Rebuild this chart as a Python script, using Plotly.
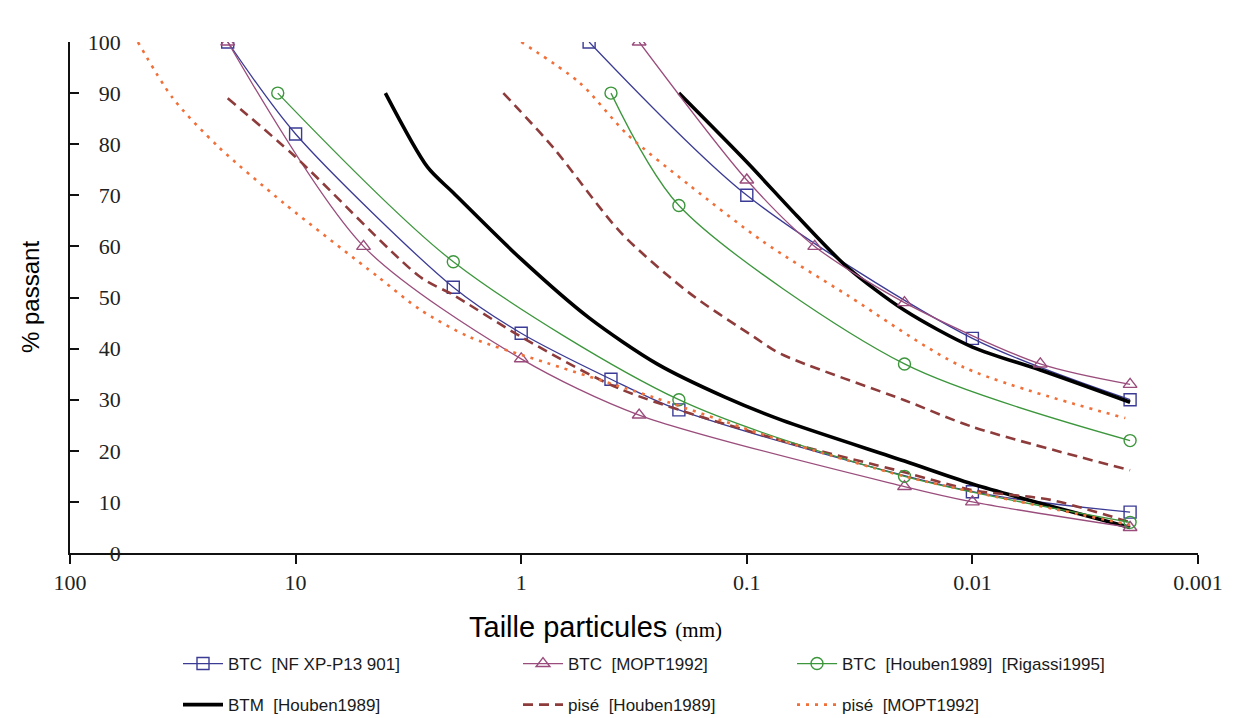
import plotly.graph_objects as go

# ---- data (particle size in mm, % passing) ----
# BTC [NF XP-P13 901] : lower and upper bound
nf_lo_x = [20, 10, 2, 1, 0.4, 0.2, 0.01, 0.002]
nf_lo_y = [100, 82, 52, 43, 34, 28, 12, 8]
nf_up_x = [0.5, 0.1, 0.01, 0.002]
nf_up_y = [100, 70, 42, 30]

# BTC [MOPT1992]
mo_lo_x = [20, 5, 1, 0.3, 0.02, 0.01, 0.002]
mo_lo_y = [100, 60, 38, 27, 13, 10, 5]
mo_up_x = [0.3, 0.1, 0.05, 0.02, 0.005, 0.002]
mo_up_y = [100, 73, 60, 49, 37, 33]

# BTC [Houben1989] [Rigassi1995]
hr_lo_x = [12, 2, 0.2, 0.02, 0.002]
hr_lo_y = [90, 57, 30, 15, 6]
hr_up_x = [0.4, 0.2, 0.02, 0.002]
hr_up_y = [90, 68, 37, 22]

# BTM [Houben1989]
btm_lo_x = [4, 2.6, 2, 1, 0.5, 0.25, 0.125, 0.07, 0.02, 0.01, 0.002]
btm_lo_y = [90, 75.5, 70.5, 57.5, 46, 37, 30.5, 26, 18, 13.5, 5]
btm_up_x = [0.2, 0.1, 0.06, 0.036, 0.02, 0.01, 0.005, 0.002]
btm_up_y = [90, 76.5, 66, 56, 47.5, 40.3, 35.8, 29.5]

# pisé [Houben1989]
ph_lo_x = [20, 10, 2.8, 2, 1, 0.36, 0.07, 0.02, 0.01, 0.0045, 0.002]
ph_lo_y = [89, 77.5, 54, 50.5, 42.3, 32, 22, 15.8, 12.3, 10.4, 6]
ph_up_x = [1.2, 0.72, 0.36, 0.18, 0.093, 0.071, 0.02, 0.01, 0.002]
ph_up_y = [90, 79.3, 62.6, 50.9, 42.3, 39, 29.9, 24.7, 16.2]

# pisé [MOPT1992]
pm_lo_x = [50, 35, 22, 11.3, 4.3, 2.8, 1.7, 0.77, 0.26, 0.07, 0.02, 0.01, 0.002]
pm_lo_y = [100, 89, 79.5, 68.5, 54, 47.6, 42.3, 37.2, 30.5, 22, 15, 12, 5.5]
pm_up_x = [1, 0.55, 0.34, 0.18, 0.085, 0.036, 0.011, 0.0021]
pm_up_y = [100, 92, 82, 72, 61, 50.5, 36.4, 26.4]

x_ticks = [100, 10, 1, 0.1, 0.01, 0.001]
y_ticks = [0, 10, 20, 30, 40, 50, 60, 70, 80, 90, 100]

W, H = 1233, 718
L, R, T, B = 70, 1198, 42, 553


def pair(lx, ly, ux, uy):
    return list(lx) + [None] + list(ux), list(ly) + [None] + list(uy)


series = [
    dict(name="BTC&nbsp;&nbsp;[NF XP-P13 901]", d=pair(nf_lo_x, nf_lo_y, nf_up_x, nf_up_y),
         color="#3b3b95", width=1.3, dash="solid", symbol="square-open", legend="legend", rank=1),
    dict(name="BTM&nbsp;&nbsp;[Houben1989]", d=pair(btm_lo_x, btm_lo_y, btm_up_x, btm_up_y),
         color="#000000", width=3.6, dash="solid", symbol=None, legend="legend", rank=2),
    dict(name="BTC&nbsp;&nbsp;[MOPT1992]", d=pair(mo_lo_x, mo_lo_y, mo_up_x, mo_up_y),
         color="#9a4d7c", width=1.3, dash="solid", symbol="triangle-up-open", legend="legend2", rank=1),
    dict(name="pisé&nbsp;&nbsp;[Houben1989]", d=pair(ph_lo_x, ph_lo_y, ph_up_x, ph_up_y),
         color="#8e3b3b", width=2.6, dash="10px,6px", symbol=None, legend="legend2", rank=2),
    dict(name="BTC&nbsp;&nbsp;[Houben1989]&nbsp;&nbsp;[Rigassi1995]", d=pair(hr_lo_x, hr_lo_y, hr_up_x, hr_up_y),
         color="#3c963c", width=1.3, dash="solid", symbol="circle-open", legend="legend3", rank=1),
    dict(name="pisé&nbsp;&nbsp;[MOPT1992]", d=pair(pm_lo_x, pm_lo_y, pm_up_x, pm_up_y),
         color="#f0703a", width=2.6, dash="3px,6px", symbol=None, legend="legend3", rank=2),
]

fig = go.Figure()
for i, s in enumerate(series):
    x, y = s["d"]
    mode = "lines+markers" if s["symbol"] else "lines"
    marker = dict(symbol=s["symbol"], size=12, color=s["color"],
                  line=dict(width=1.4, color=s["color"])) if s["symbol"] else None
    fig.add_trace(go.Scatter(
        x=x, y=y, name=s["name"], mode=mode,
        line=dict(color=s["color"], width=s["width"], dash=s["dash"], shape="spline", smoothing=0.8),
        marker=marker, connectgaps=False,
        legend=s["legend"], legendgroup=f"g{i}", legendrank=s["rank"],
        hoverinfo="skip",
    ))

px2x = lambda p: (p - L) / (R - L)
py2y = lambda p: (B - p) / (B - T)

legend_common = dict(
    orientation="v", yanchor="top", xanchor="left",
    font=dict(family="Liberation Sans, Arial, sans-serif", size=17, color="#1a1a1a"),
    bgcolor="rgba(0,0,0,0)", tracegroupgap=16, itemwidth=40,
)
y_leg = py2y(646)

fig.update_layout(
    width=W, height=H,
    margin=dict(l=L, r=W - R, t=T, b=H - B, autoexpand=False),
    paper_bgcolor="white", plot_bgcolor="white",
    showlegend=True,
    legend=dict(x=px2x(178), y=y_leg, **legend_common),
    legend2=dict(x=px2x(518), y=y_leg, **legend_common),
    legend3=dict(x=px2x(792), y=y_leg, **legend_common),
    xaxis=dict(
        type="log", range=[2, -3], tickvals=x_ticks, ticktext=[str(v) for v in x_ticks],
        showline=True, linecolor="#111", linewidth=1.5, ticks="outside", ticklen=9,
        tickcolor="#111", tickwidth=1.5, showgrid=False, zeroline=False,
        tickfont=dict(family="Liberation Serif, Times New Roman, serif", size=22, color="#222"),
        automargin=False,
    ),
    yaxis=dict(
        range=[0, 100], tickvals=y_ticks,
        showline=True, linecolor="#111", linewidth=1.5, ticks="inside", ticklen=9,
        tickcolor="#111", tickwidth=1.5, showgrid=False, zeroline=False,
        ticklabelposition="outside", ticklabelstandoff=-57,
        tickfont=dict(family="Liberation Serif, Times New Roman, serif", size=22, color="#222"),
        automargin=False,
    ),
    annotations=[
        dict(text="Taille particules <span style='font-family:Liberation Serif;font-size:21px'>(mm)</span>",
             xref="paper", yref="paper", x=px2x(595), y=py2y(627), xanchor="center", yanchor="middle",
             showarrow=False, font=dict(family="Liberation Sans, Arial, sans-serif", size=29, color="#000")),
        dict(text="% passant", textangle=-90,
             xref="paper", yref="paper", x=px2x(30), y=py2y(297), xanchor="center", yanchor="middle",
             showarrow=False, font=dict(family="Liberation Sans, Arial, sans-serif", size=24, color="#000")),
    ],
)

fig.write_html("out.html")
